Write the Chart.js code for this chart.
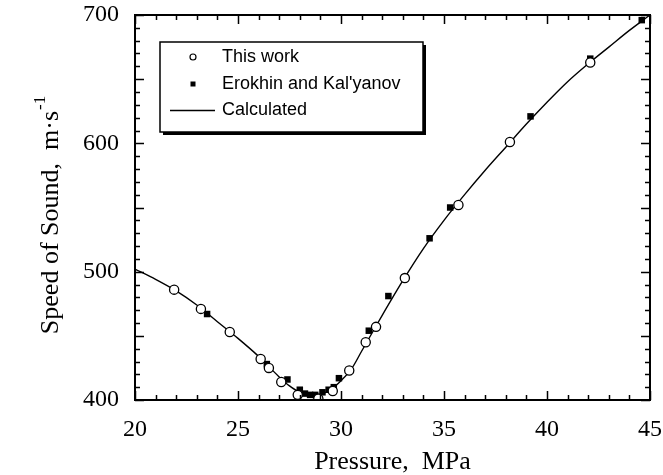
<!DOCTYPE html>
<html>
<head>
<meta charset="utf-8">
<script src="https://cdn.jsdelivr.net/npm/chart.js@4.4.1/dist/chart.umd.min.js"></script>
<style>
  html, body { margin: 0; padding: 0; background: #fff; }
  #wrap { width: 663px; height: 475px; position: relative; }
</style>
</head>
<body>
<div id="wrap"><canvas id="soundChart"></canvas></div>
<script>
// ---- data ----
const workP = [21.9, 23.2, 24.6, 26.1, 26.5, 27.1, 27.9, 28.9, 29.6, 30.4, 31.2, 31.7, 33.1, 35.7, 38.2, 42.1];
const workV = [486, 471, 453, 432, 425, 414, 404, 401, 407, 423, 445, 457, 495, 552, 601, 663];

const erokhinP = [23.5, 26.4, 27.4, 28.0, 28.25, 28.5, 28.75, 29.1, 29.4, 29.65, 29.9, 31.35, 32.3, 34.3, 35.3, 39.2, 42.1, 44.6];
const erokhinV = [467, 428, 416, 408, 405, 404, 404, 406, 408, 410, 417, 454, 481, 526, 550, 621, 666, 696];

const calcP = [20, 21, 22, 23, 24, 25, 26, 27, 27.5, 28, 28.5, 29, 29.5, 30, 30.5, 31, 31.5, 32, 33, 34, 35, 36, 37, 38, 39, 40, 41, 42, 43, 44, 45];
const calcV = [502, 494, 485, 474, 461, 448, 434, 418, 411, 406, 404, 404.5, 408, 415, 424, 438, 452, 466, 493, 518, 540, 560, 579, 597, 615, 632, 648, 662, 675, 688, 700];

const xTickLabels = [20, 25, 30, 35, 40, 45];
const yTickLabels = [400, 500, 600, 700];

const legendLabels = ['This work', "Erokhin and Kal'yanov", 'Calculated'];

const SERIF = '"Liberation Serif", "Times New Roman", serif';
const SANS = '"Liberation Sans", Arial, sans-serif';

const toPoints = (xs, ys) => xs.map((x, i) => ({ x: x, y: ys[i] }));

// frame, inward ticks on all four sides, y title and the boxed legend
const decorPlugin = {
  id: 'decor',
  afterDraw(chart) {
    const { ctx, chartArea, scales } = chart;
    const { left, right, top, bottom } = chartArea;
    const xs = scales.x, ys = scales.y;
    ctx.save();
    ctx.strokeStyle = '#000';

    // ticks
    ctx.lineWidth = 1.5;
    ctx.beginPath();
    for (let v = xs.min; v <= xs.max; v += 1) {
      const px = Math.round(xs.getPixelForValue(v)) + 0.5;
      const len = v % 5 === 0 ? 9 : 5;
      ctx.moveTo(px, bottom); ctx.lineTo(px, bottom - len);
      ctx.moveTo(px, top); ctx.lineTo(px, top + len);
    }
    for (let v = ys.min; v <= ys.max; v += 10) {
      const py = Math.round(ys.getPixelForValue(v)) + 0.5;
      const len = v % 50 === 0 ? 9 : 5;
      ctx.moveTo(left, py); ctx.lineTo(left + len, py);
      ctx.moveTo(right, py); ctx.lineTo(right - len, py);
    }
    ctx.stroke();

    // frame
    ctx.lineWidth = 2;
    ctx.strokeRect(left, top, right - left, bottom - top);

    // y title with superscript
    ctx.save();
    ctx.translate(51, (top + bottom) / 2 + 8);
    ctx.rotate(-Math.PI / 2);
    ctx.fillStyle = '#000';
    ctx.textBaseline = 'middle';
    const main = 'Speed of Sound,  m\u00B7s';
    ctx.font = '26px ' + SERIF;
    const mainW = ctx.measureText(main).width;
    ctx.font = '17px ' + SERIF;
    const supW = ctx.measureText('-1').width;
    const startX = -(mainW + supW) / 2;
    ctx.font = '26px ' + SERIF;
    ctx.textAlign = 'left';
    ctx.fillText(main, startX, 0);
    ctx.font = '17px ' + SERIF;
    ctx.fillText('-1', startX + mainW + 1, -10);
    ctx.restore();

    // legend box
    const bx = 160, by = 42, bw = 263, bh = 90;
    ctx.fillStyle = '#fff';
    ctx.fillRect(bx, by, bw, bh);
    ctx.fillStyle = '#000';
    ctx.fillRect(bx + 3, by + bh, bw, 3);
    ctx.fillRect(bx + bw, by + 3, 3, bh);
    ctx.lineWidth = 1.5;
    ctx.strokeRect(bx, by, bw, bh);

    const rowY = [57, 84, 110];
    ctx.font = '18px ' + SANS;
    ctx.textAlign = 'left';
    ctx.textBaseline = 'middle';
    legendLabels.forEach((txt, i) => ctx.fillText(txt, 222, rowY[i]));

    ctx.lineWidth = 1.2;
    ctx.beginPath();
    ctx.arc(193, rowY[0], 3, 0, Math.PI * 2);
    ctx.fillStyle = '#fff';
    ctx.fill();
    ctx.stroke();
    ctx.fillStyle = '#000';
    ctx.fillRect(190.5, rowY[1] - 2.5, 5, 5);
    ctx.lineWidth = 1.3;
    ctx.beginPath();
    ctx.moveTo(170, rowY[2] + 0.5);
    ctx.lineTo(215, rowY[2] + 0.5);
    ctx.stroke();

    ctx.restore();
  }
};

new Chart(document.getElementById('soundChart'), {
  type: 'scatter',
  data: {
    datasets: [
      {
        label: legendLabels[0],
        data: toPoints(workP, workV),
        pointStyle: 'circle',
        pointRadius: 4.6,
        pointBackgroundColor: '#fff',
        pointBorderColor: '#000',
        pointBorderWidth: 1.3,
      },
      {
        label: legendLabels[1],
        data: toPoints(erokhinP, erokhinV),
        pointStyle: 'rect',
        pointRadius: 4.6,
        pointBackgroundColor: '#000',
        pointBorderColor: '#000',
        pointBorderWidth: 0,
      },
      {
        label: legendLabels[2],
        data: toPoints(calcP, calcV),
        showLine: true,
        cubicInterpolationMode: 'monotone',
        borderColor: '#000',
        borderWidth: 1.4,
        pointRadius: 0,
      },
    ],
  },
  options: {
    responsive: true,
    maintainAspectRatio: false,
    animation: false,
    events: [],
    layout: { padding: { top: 15, right: 13, left: 0, bottom: 0 } },
    scales: {
      x: {
        type: 'linear',
        min: 20,
        max: 45,
        afterBuildTicks: (axis) => { axis.ticks = xTickLabels.map((v) => ({ value: v })); },
        afterFit: (axis) => { axis.height = 75; axis.paddingLeft = 0; axis.paddingRight = 0; },
        grid: { display: false, drawTicks: false },
        border: { display: false },
        ticks: {
          color: '#000',
          padding: 15,
          maxRotation: 0,
          font: { family: SERIF, size: 24 },
        },
        title: {
          display: true,
          text: 'Pressure,  MPa',
          color: '#000',
          padding: { top: 0, bottom: 0 },
          font: { family: SERIF, size: 26, lineHeight: 1.0 },
        },
      },
      y: {
        type: 'linear',
        min: 400,
        max: 700,
        afterBuildTicks: (axis) => { axis.ticks = yTickLabels.map((v) => ({ value: v })); },
        afterFit: (axis) => { axis.width = 135; axis.paddingTop = 0; axis.paddingBottom = 0; },
        grid: { display: false, drawTicks: false },
        border: { display: false },
        ticks: {
          color: '#000',
          padding: 16,
          font: { family: SERIF, size: 24 },
        },
      },
    },
    plugins: {
      legend: { display: false },
      tooltip: { enabled: false },
    },
  },
  plugins: [decorPlugin],
});
</script>
</body>
</html>
